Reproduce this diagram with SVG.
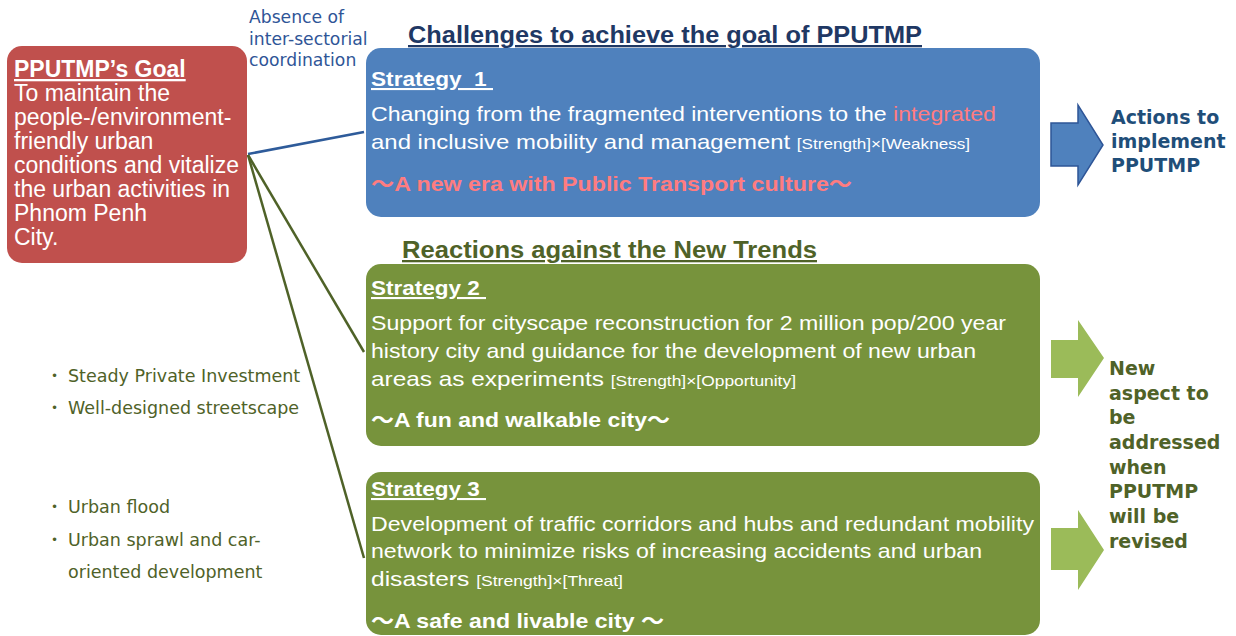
<svg xmlns="http://www.w3.org/2000/svg" width="1236" height="636" viewBox="0 0 1236 636">
  <style>
    .goal { font-family: "Liberation Sans", Arial, sans-serif; font-size: 23px; fill: #ffffff; }
    .narrow { font-family: "Liberation Sans Narrow", "Liberation Sans", "Noto Sans CJK JP", sans-serif; }
    .head { font-size: 23px; font-weight: bold; text-decoration: underline; }
    .stitle { font-size: 21px; font-weight: bold; fill: #ffffff; text-decoration: underline; }
    .body { font-size: 21px; fill: #ffffff; }
    .small { font-size: 15px; }
    .tag { font-size: 21px; font-weight: bold; }
    .verd { font-family: "DejaVu Sans", Verdana, sans-serif; }
    .side { font-size: 19px; font-weight: bold; }
    .bullet { font-size: 17.5px; fill: #4f6228; }
    .dot { font-size: 12px; fill: #4f6228; }
    .link { fill: none; stroke-width: 2.5; }
  </style>

  <rect width="1236" height="636" fill="#ffffff"/>

  <!-- connectors from the goal to each strategy -->
  <g id="connectors">
    <line class="link" x1="248" y1="154" x2="364" y2="132" stroke="#2e5b9a"/>
    <line class="link" x1="248" y1="155" x2="364" y2="352" stroke="#4f6228"/>
    <line class="link" x1="248" y1="155" x2="364" y2="558" stroke="#4f6228"/>
  </g>

  <!-- goal box -->
  <g id="goal">
    <rect x="7" y="46" width="240" height="217" rx="15" fill="#c0504d"/>
    <text class="goal" x="14" y="77" font-weight="bold" text-decoration="underline">PPUTMP’s Goal</text>
    <text class="goal" x="14" y="101">To maintain the</text>
    <text class="goal" x="14" y="125">people-/environment-</text>
    <text class="goal" x="14" y="149">friendly urban</text>
    <text class="goal" x="14" y="173">conditions and vitalize</text>
    <text class="goal" x="14" y="197">the urban activities in</text>
    <text class="goal" x="14" y="221">Phnom Penh</text>
    <text class="goal" x="14" y="245">City.</text>
  </g>

  <!-- label on the strategy 1 connector -->
  <g id="coordination-label" class="verd" font-size="17.2" fill="#2f5597">
    <text x="249" y="23">Absence of</text>
    <text x="249" y="45">inter-sectorial</text>
    <text x="249" y="66">coordination</text>
  </g>

  <!-- section headings -->
  <g id="headings" class="narrow">
    <text class="head" x="408" y="43" fill="#1f3864" textLength="514" lengthAdjust="spacingAndGlyphs">Challenges to achieve the goal of PPUTMP</text>
    <text class="head" x="402" y="258" fill="#4f6228" textLength="415" lengthAdjust="spacingAndGlyphs">Reactions against the New Trends</text>
  </g>

  <!-- strategy 1 -->
  <g id="strategy1" class="narrow">
    <rect x="366" y="48" width="674" height="169" rx="15" fill="#4f81bd"/>
    <text class="stitle" x="371" y="86" xml:space="preserve" textLength="122" lengthAdjust="spacingAndGlyphs">Strategy  1 </text>
    <text class="body" x="371" y="121" textLength="625" lengthAdjust="spacingAndGlyphs">Changing from the fragmented interventions to the <tspan fill="#ff7c80">integrated</tspan></text>
    <text class="body" x="371" y="149" textLength="599" lengthAdjust="spacingAndGlyphs">and inclusive mobility and management <tspan class="small">[Strength]×[Weakness]</tspan></text>
    <text class="tag" x="371" y="191" fill="#ff7c80" textLength="481" lengthAdjust="spacingAndGlyphs">～A new era with Public Transport culture～</text>
  </g>

  <!-- strategy 2 -->
  <g id="strategy2" class="narrow">
    <rect x="366" y="264" width="674" height="182" rx="15" fill="#77933c"/>
    <text class="stitle" x="371" y="295" xml:space="preserve" textLength="115" lengthAdjust="spacingAndGlyphs">Strategy 2 </text>
    <text class="body" x="371" y="330" textLength="635" lengthAdjust="spacingAndGlyphs">Support for cityscape reconstruction for 2 million pop/200 year</text>
    <text class="body" x="371" y="358" textLength="605" lengthAdjust="spacingAndGlyphs">history city and guidance for the development of new urban</text>
    <text class="body" x="371" y="386" textLength="425" lengthAdjust="spacingAndGlyphs">areas as experiments <tspan class="small">[Strength]×[Opportunity]</tspan></text>
    <text class="tag" x="371" y="427" fill="#ffffff" textLength="299" lengthAdjust="spacingAndGlyphs">～A fun and walkable city～</text>
  </g>

  <!-- strategy 3 -->
  <g id="strategy3" class="narrow">
    <rect x="366" y="472" width="674" height="163" rx="15" fill="#77933c"/>
    <text class="stitle" x="371" y="496" xml:space="preserve" textLength="115" lengthAdjust="spacingAndGlyphs">Strategy 3 </text>
    <text class="body" x="371" y="531" textLength="663" lengthAdjust="spacingAndGlyphs">Development of traffic corridors and hubs and redundant mobility</text>
    <text class="body" x="371" y="558" textLength="611" lengthAdjust="spacingAndGlyphs">network to minimize risks of increasing accidents and urban</text>
    <text class="body" x="371" y="586" textLength="252" lengthAdjust="spacingAndGlyphs">disasters <tspan class="small">[Strength]×[Threat]</tspan></text>
    <text class="tag" x="371" y="628" fill="#ffffff" textLength="293" lengthAdjust="spacingAndGlyphs">～A safe and livable city ～</text>
  </g>

  <!-- outcome arrows -->
  <g id="arrow-actions">
    <polygon points="1051,123 1078,123 1078,105 1103,145 1078,185 1078,166 1051,166" fill="#4f81bd" stroke="#2e5597" stroke-width="1.5"/>
  </g>
  <g id="arrow-new1">
    <polygon points="1051,340 1078,340 1078,320 1104,358 1078,397 1078,378 1051,378" fill="#9bbb59"/>
  </g>
  <g id="arrow-new2">
    <polygon points="1051,528 1078,528 1078,510 1104,550 1078,590 1078,570 1051,570" fill="#9bbb59"/>
  </g>

  <g id="actions-label" class="verd side" fill="#1f4e79">
    <text x="1111" y="124">Actions to</text>
    <text x="1111" y="148">implement</text>
    <text x="1111" y="172">PPUTMP</text>
  </g>

  <g id="new-aspect-label" class="verd side" fill="#4f6228">
    <text x="1109" y="375">New</text>
    <text x="1109" y="400">aspect to</text>
    <text x="1109" y="424">be</text>
    <text x="1109" y="449">addressed</text>
    <text x="1109" y="474">when</text>
    <text x="1109" y="498">PPUTMP</text>
    <text x="1109" y="523">will be</text>
    <text x="1109" y="548">revised</text>
  </g>

  <!-- trend bullet lists -->
  <g id="opportunities" class="verd">
    <text class="dot" x="51" y="380">•</text><text class="bullet" x="68" y="382">Steady Private Investment</text>
    <text class="dot" x="51" y="412">•</text><text class="bullet" x="68" y="414">Well-designed streetscape</text>
  </g>
  <g id="threats" class="verd">
    <text class="dot" x="51" y="511">•</text><text class="bullet" x="68" y="513">Urban flood</text>
    <text class="dot" x="51" y="544">•</text><text class="bullet" x="68" y="546">Urban sprawl and car-</text>
    <text class="bullet" x="68" y="578">oriented development</text>
  </g>
</svg>
